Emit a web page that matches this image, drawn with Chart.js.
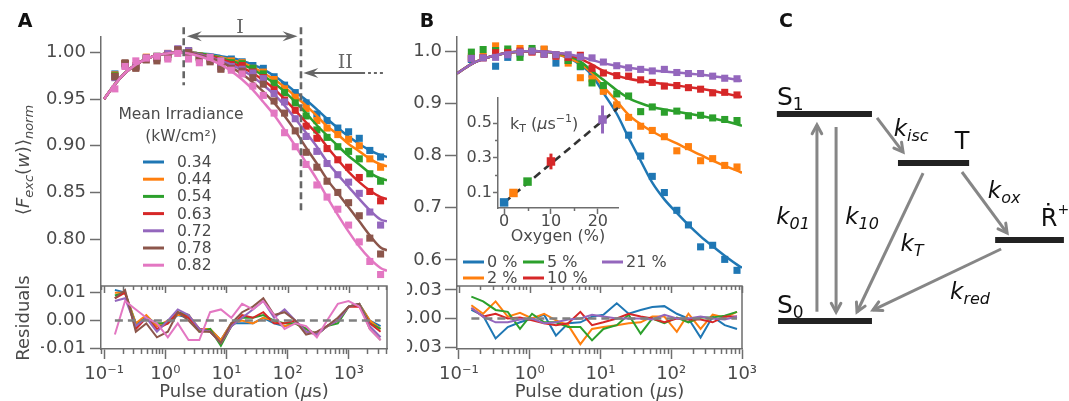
<!DOCTYPE html>
<html>
<head>
<meta charset="utf-8">
<script src="https://cdn.jsdelivr.net/npm/chart.js@4.4.1/dist/chart.umd.min.js"></script>
<style>
  body { margin: 0; background: #fff; }
  #fig { position: relative; width: 1069px; height: 401px; }
  #fig canvas { position: absolute; left: 0; top: 0; }
</style>
</head>
<body>
<div id="fig">
  <canvas id="aMain" width="1069" height="401"></canvas>
  <canvas id="aRes" width="1069" height="401"></canvas>
  <canvas id="bMain" width="1069" height="401"></canvas>
  <canvas id="bRes" width="1069" height="401"></canvas>
  <canvas id="inset" width="1069" height="401"></canvas>
  <canvas id="scheme" width="1069" height="401"></canvas>
</div>
<script>
// ---------- panel A : irradiance series ----------
const irradiance = ['0.34', '0.44', '0.54', '0.63', '0.72', '0.78', '0.82'];
const pulseA = [0.15, 0.22, 0.33, 0.49, 0.73, 1.1, 1.6, 2.4, 3.6, 5.4, 8.1, 12, 18, 27, 40, 60, 89, 133, 200, 300, 440, 660, 990, 1480, 2200, 3300];
const fitPulseA = [0.1, 0.15, 0.22, 0.33, 0.49, 0.73, 1.1, 1.6, 2.4, 3.6, 5.4, 8.1, 12, 18, 27, 40, 60, 89, 133, 200, 300, 440, 660, 990, 1480, 2200, 3300, 4200];

const aMeas034 = [.977, .988, .986, .994, .995, .998, 1.002, 1.001, .996, .995, .989, .993, .990, .986, .983, .974, .965, .957, .946, .934, .927, .919, .915, .908, .895, .888];
const aMeas044 = [.976, .988, .986, .995, .995, .999, 1.002, 1.002, .996, .994, .988, .991, .989, .983, .979, .971, .961, .952, .940, .927, .919, .912, .907, .900, .886, .877];
const aMeas054 = [.975, .988, .985, .994, .996, .998, 1.003, 1.002, .995, .994, .985, .989, .988, .983, .977, .967, .957, .946, .932, .917, .909, .899, .894, .886, .870, .862];
const aMeas063 = [.974, .988, .984, .994, .994, .998, 1.003, 1.001, .995, .992, .985, .987, .986, .979, .973, .960, .949, .938, .921, .908, .897, .885, .877, .866, .851, .841];
const aMeas072 = [.973, .986, .985, .994, .993, .999, 1.004, 1.002, .995, .991, .983, .985, .982, .978, .972, .956, .947, .929, .910, .894, .881, .869, .861, .849, .829, .815];
const aMeas078 = [.974, .989, .983, .992, .991, .995, 1.003, 1.000, .993, .990, .982, .983, .980, .973, .966, .948, .935, .916, .893, .877, .862, .850, .839, .825, .801, .784];
const aMeas082 = [.961, .985, .991, .994, .996, .993, .999, .993, .989, .995, .991, .981, .977, .964, .954, .935, .914, .899, .880, .858, .845, .832, .815, .797, .776, .762];

const aFit034 = [.950, .966, .978, .987, .993, .997, .999, 1.000, 1.000, .999, .998, .996, .994, .991, .987, .982, .975, .967, .958, .949, .939, .929, .919, .910, .902, .895, .890, .888];
const aFit044 = [.950, .966, .978, .987, .993, .997, .999, 1.000, 1.000, .999, .997, .995, .992, .989, .984, .978, .971, .963, .953, .943, .932, .921, .912, .902, .894, .886, .880, .878];
const aFit054 = [.950, .966, .978, .987, .993, .997, .999, 1.000, 1.000, .999, .997, .994, .991, .987, .982, .975, .967, .958, .947, .935, .922, .911, .900, .889, .880, .871, .865, .863];
const aFit063 = [.950, .966, .978, .987, .993, .997, .999, 1.000, 1.000, .998, .996, .993, .989, .984, .978, .970, .961, .950, .938, .925, .913, .899, .885, .872, .861, .852, .845, .843];
const aFit072 = [.950, .966, .978, .987, .993, .997, .999, 1.000, 1.000, .998, .995, .991, .987, .981, .974, .965, .955, .943, .929, .914, .899, .883, .869, .856, .843, .831, .821, .819];
const aFit078 = [.950, .966, .978, .987, .993, .997, .999, 1.000, 1.000, .997, .994, .990, .984, .977, .968, .958, .946, .932, .916, .898, .881, .864, .849, .834, .819, .804, .791, .788];
const aFit082 = [.950, .966, .978, .987, .993, .997, .999, 1.000, .999, .996, .992, .987, .980, .971, .960, .947, .933, .917, .900, .882, .864, .845, .826, .808, .792, .779, .769, .766];

const aRes034 = [.011, .010, -.001, .001, -.002, -.001, .002, .001, -.003, -.003, -.007, -.001, -.001, -.001, .001, -.001, -.002, -.001, -.003, -.005, -.002, .000, .005, .006, .000, -.002];
const aRes044 = [.010, .010, -.001, .002, -.002, .000, .002, .002, -.003, -.003, -.007, -.001, .000, -.001, .001, .000, -.002, -.001, -.003, -.005, -.002, .000, .005, .006, .000, -.003];
const aRes054 = [.009, .010, -.002, .001, -.001, -.001, .003, .002, -.004, -.003, -.009, -.002, .001, .001, .002, .000, -.001, -.001, -.003, -.005, -.002, -.001, .005, .006, -.001, -.003];
const aRes063 = [.008, .010, -.003, .001, -.003, -.001, .003, .001, -.003, -.004, -.008, -.002, .002, .001, .003, -.001, -.001, .000, -.004, -.005, -.002, .000, .005, .005, -.001, -.004];
const aRes072 = [.007, .008, -.002, .001, -.004, .000, .004, .002, -.003, -.004, -.008, -.002, .001, .004, .007, .001, .004, .000, -.004, -.005, -.002, .000, .005, .006, -.002, -.006];
const aRes078 = [.008, .011, -.004, -.001, -.006, -.004, .003, .000, -.004, -.004, -.008, -.001, .003, .005, .008, .002, .003, .000, -.005, -.004, -.002, .001, .005, .006, -.003, -.007];
const aRes082 = [-.005, .007, .004, .001, -.001, -.006, -.001, -.007, -.007, .003, .004, .001, .006, .004, .007, .002, -.003, -.001, -.002, -.006, .000, .006, .007, .005, -.003, -.007];

const aMeas = [aMeas034, aMeas044, aMeas054, aMeas063, aMeas072, aMeas078, aMeas082];
const aFit = [aFit034, aFit044, aFit054, aFit063, aFit072, aFit078, aFit082];
const aRes = [aRes034, aRes044, aRes054, aRes063, aRes072, aRes078, aRes082];

// regimes I / II marked on panel A (pulse durations in us)
const regimeEdges = [2.0, 165];
const regimeEdgeBottom = [0.965, 0.827];

// ---------- panel B : oxygen series ----------
const oxygenLabels = ['0 %', '2 %', '5 %', '10 %', '21 %'];
const pulseB = [0.15, 0.22, 0.33, 0.49, 0.73, 1.08, 1.6, 2.35, 3.5, 5.2, 7.6, 11, 17, 25, 37, 54, 80, 120, 175, 260, 385, 570, 850];
const fitPulseB = [0.094, 0.15, 0.22, 0.33, 0.49, 0.73, 1.08, 1.6, 2.35, 3.5, 5.2, 7.6, 11, 17, 25, 37, 54, 80, 120, 175, 260, 385, 570, 850, 1000];

const bMeas0 = [.984, .988, .971, .988, .995, 1.000, 1.003, .977, .982, .970, .956, .924, .896, .839, .799, .760, .729, .695, .667, .625, .628, .601, .580];
const bMeas2 = [.989, .990, 1.010, .999, 1.005, 1.000, 1.004, .993, .977, .949, .947, .923, .897, .873, .856, .848, .836, .809, .817, .790, .794, .781, .778];
const bMeas5 = [.998, 1.003, 1.001, 1.004, .988, 1.005, .995, .992, .982, .971, .939, .934, .918, .914, .884, .893, .883, .885, .876, .877, .872, .869, .867];
const bMeas10 = [.986, .987, .997, .997, 1.000, .998, .994, .990, .988, .992, .967, .958, .953, .952, .945, .940, .933, .934, .930, .927, .920, .921, .916];
const bMeas21 = [.986, .987, .988, .993, .998, 1.000, .994, .993, .993, .989, .987, .979, .972, .968, .965, .962, .965, .959, .957, .957, .952, .948, .947];

const bFit0 = [.957, .975, .985, .992, .997, .999, 1.000, .999, .995, .987, .974, .954, .920, .880, .834, .790, .748, .716, .690, .667, .645, .626, .608, .591, .585];
const bFit2 = [.957, .975, .985, .992, .997, .999, 1.000, .999, .995, .987, .976, .958, .932, .904, .878, .860, .846, .834, .823, .812, .801, .790, .780, .771, .767];
const bFit5 = [.957, .975, .985, .992, .997, .999, 1.000, .999, .996, .991, .980, .962, .945, .925, .910, .900, .893, .888, .884, .880, .876, .871, .866, .860, .857];
const bFit10 = [.957, .975, .985, .992, .997, .999, 1.000, .999, .997, .993, .985, .974, .962, .953, .947, .943, .940, .937, .934, .931, .928, .924, .919, .914, .912];
const bFit21 = [.957, .975, .985, .992, .997, .999, 1.000, .999, .997, .994, .989, .983, .977, .972, .968, .965, .963, .961, .959, .957, .955, .952, .949, .945, .943];

const bRes0 = [.009, .003, -.021, -.009, -.004, .000, .004, -.018, -.005, -.004, .002, .004, .016, .005, .009, .012, .013, .005, .000, -.020, .002, -.007, -.011];
const bRes2 = [.014, .005, .018, .002, .006, .000, .005, -.002, -.007, -.027, -.011, -.009, -.007, -.005, -.004, .002, .002, -.014, .005, -.011, .004, .001, .007];
const bRes5 = [.023, .018, .009, .007, -.011, .005, -.004, -.004, -.009, -.009, -.023, -.011, -.007, .004, -.016, .000, -.005, .001, -.004, .001, .001, .003, .007];
const bRes10 = [.011, .002, .005, .000, .001, -.002, -.005, -.007, -.005, .007, -.007, -.004, .000, .005, .002, .000, -.004, .000, -.001, -.001, -.004, .002, .002];
const bRes21 = [.011, .002, -.004, -.004, -.001, .000, -.005, -.004, -.001, .000, .004, .002, .000, .000, .000, -.001, .004, .000, .000, .002, .000, -.001, .002];

const bMeas = [bMeas0, bMeas2, bMeas5, bMeas10, bMeas21];
const bFit = [bFit0, bFit2, bFit5, bFit10, bFit21];
const bRes = [bRes0, bRes2, bRes5, bRes10, bRes21];

// inset: triplet decay rate vs oxygen
const oxygen = [0, 2, 5, 10, 21];
const kT = [0.046, 0.100, 0.165, 0.280, 0.520];
const kTErr = [0, 0, 0, 0.045, 0.080];
const kTFitX = [0, 24.3];
const kTFitY = [0.045, 0.586];

// ticks
const decades = [0.1, 1, 10, 100, 1000];
const decadeLabels = ['10\u207B\u00B9', '10\u2070', '10\u00B9', '10\u00B2', '10\u00B3'];
const aYTicks = [0.80, 0.85, 0.90, 0.95, 1.00];
const bYTicks = [0.6, 0.7, 0.8, 0.9, 1.0];
const aResTicks = [-0.01, 0, 0.01];
const bResTicks = [-0.03, 0, 0.03];
const insetYTicks = [0.1, 0.3, 0.5];
const insetYMinor = [0.2, 0.4];
const insetXTicks = [0, 10, 20];
const insetXMinor = [5, 15];

// ---------- panel C : kinetic scheme ----------
const levelNames = ['S1', 'S0', 'T', 'R'];
const levelEnergy = [8.07, 0.68, 6.32, 3.57];
const levelStart = [0.23, 0.27, 4.28, 7.53];
const levelEnd = [3.41, 3.41, 6.66, 9.83];
const rateNames = ['01', '10', 'isc', 'T', 'ox', 'red'];
const rateFromX = [1.57, 2.21, 3.58, 5.12, 6.42, 7.73];
const rateFromY = [1.01, 7.61, 7.93, 5.96, 6.00, 3.25];
const rateToX = [1.57, 2.21, 4.45, 2.91, 7.93, 3.44];
const rateToY = [7.68, 1.00, 6.71, 1.00, 3.82, 1.07];
const rateLabelX = [0.77, 3.08, 4.72, 4.75, 7.83, 6.69];
const rateLabelY = [4.36, 4.36, 7.50, 3.39, 5.29, 1.68];

// ---------- styling ----------
const FONT = 'DejaVu Sans';
const TXT = '#4a4a4a';
const AX = '#6e6e6e';
const tab = ['#1f77b4', '#ff7f0e', '#2ca02c', '#d62728', '#9467bd', '#8c564b', '#e377c2'];
Chart.defaults.font.family = FONT;
Chart.defaults.color = TXT;
Chart.defaults.animation = false;
Chart.defaults.events = [];

function pts(xs, ys) { return xs.map((x, i) => ({ x: x, y: ys[i] })); }

function measSet(xs, ys, color, order, r) {
  return { data: pts(xs, ys), showLine: false, pointStyle: 'rect', pointRadius: r || 5,
    pointBackgroundColor: color, pointBorderWidth: 0, order: order };
}
function lineSet(xs, ys, color, width, order, smooth, dash) {
  return { data: pts(xs, ys), showLine: true, pointRadius: 0, borderColor: color, borderWidth: width,
    cubicInterpolationMode: smooth ? 'monotone' : 'default', tension: 0, borderDash: dash || [],
    borderCapStyle: 'butt', fill: false, order: order };
}

function yScale(min, max, ticks, digits, width, size, tl, pad) {
  return {
    type: 'linear', min: min, max: max,
    afterFit: s => { s.width = width; },
    afterBuildTicks: s => { s.ticks = ticks.map(v => ({ value: v })); },
    ticks: { font: { size: size }, color: TXT, padding: pad,
      callback: v => v.toFixed(digits).replace('-', '\u2212') },
    grid: { drawOnChartArea: false, tickLength: tl, tickColor: AX, tickWidth: 1.5 },
    border: { color: AX, width: 1.5 }
  };
}
function xHidden(type, min, max) { return { type: type, min: min, max: max, display: false }; }
function xPulse(min, max) {
  return {
    type: 'logarithmic', min: min, max: max, position: 'bottom',
    afterFit: s => { s.height = 52; },
    afterBuildTicks: s => { s.ticks = decades.filter(v => v >= min && v <= max).map(v => ({ value: v })); },
    ticks: { font: { size: 18 }, color: TXT, padding: 5, maxRotation: 0, autoSkip: false,
      callback: v => decadeLabels[decades.indexOf(v)] },
    grid: { drawOnChartArea: false, tickLength: 10, tickColor: AX, tickWidth: 1.5 },
    border: { color: AX, width: 1.5 }
  };
}
function minorDecades(min, max) {
  const out = [];
  for (let p = -2; p <= 4; p++) for (let m = 2; m <= 9; m++) {
    const v = m * Math.pow(10, p);
    if (v > min && v < max) out.push(v);
  }
  return out;
}

function richText(ctx, parts, x, y, o) {
  const size = o.size, sub = o.sub || Math.round(size * 0.7);
  const fontFor = p => (p[2] ? 'italic ' : '') + (p[1] ? sub : size) + 'px ' + (o.family || FONT);
  ctx.save();
  ctx.translate(x, y);
  if (o.rot) ctx.rotate(o.rot);
  let w = 0;
  parts.forEach(p => { ctx.font = fontFor(p); w += ctx.measureText(p[0]).width; });
  let cx = o.align === 'left' ? 0 : -w / 2;
  ctx.textBaseline = 'middle'; ctx.textAlign = 'left'; ctx.fillStyle = o.color || TXT;
  parts.forEach(p => {
    ctx.font = fontFor(p);
    const dy = p[1] === 'sub' ? size * 0.3 : p[1] === 'sup' ? -size * 0.38 : 0;
    ctx.fillText(p[0], cx, dy);
    cx += ctx.measureText(p[0]).width;
  });
  ctx.restore();
}

function stealthHead(ctx, x0, y0, x1, y1, len, half) {
  const a = Math.atan2(y1 - y0, x1 - x0), c = Math.cos(a), s = Math.sin(a);
  ctx.beginPath();
  ctx.moveTo(x1, y1);
  ctx.lineTo(x1 - len * c - half * s, y1 - len * s + half * c);
  ctx.lineTo(x1 - 0.65 * len * c, y1 - 0.65 * len * s);
  ctx.lineTo(x1 - len * c + half * s, y1 - len * s - half * c);
  ctx.closePath();
  ctx.fill();
}
function vHead(ctx, x0, y0, x1, y1, len, ang) {
  const a = Math.atan2(y1 - y0, x1 - x0);
  ctx.beginPath();
  ctx.moveTo(x1 - len * Math.cos(a - ang), y1 - len * Math.sin(a - ang));
  ctx.lineTo(x1, y1);
  ctx.lineTo(x1 - len * Math.cos(a + ang), y1 - len * Math.sin(a + ang));
  ctx.stroke();
}

// residual panels: full box, inward top ticks, minor ticks, x title with italic mu
function boxPlugin(min, max) {
  const minors = minorDecades(min, max);
  return {
    id: 'box',
    afterDraw(chart) {
      const { ctx, chartArea: ca } = chart, x = chart.scales.x;
      ctx.save();
      ctx.strokeStyle = AX; ctx.lineWidth = 1.5;
      ctx.beginPath(); ctx.moveTo(ca.left, ca.top); ctx.lineTo(ca.right, ca.top); ctx.lineTo(ca.right, ca.bottom); ctx.stroke();
      const tick = (v, y0, len) => {
        const px = Math.round(x.getPixelForValue(v)) + 0.5;
        ctx.beginPath(); ctx.moveTo(px, y0); ctx.lineTo(px, y0 + len); ctx.stroke();
      };
      decades.filter(v => v >= min && v <= max).forEach(v => tick(v, ca.top, 7));
      minors.forEach(v => { tick(v, ca.top, 4); tick(v, ca.bottom, 5); });
      richText(ctx, [['Pulse duration (', '', false], ['\u03BC', '', true], ['s)', '', false]],
        (ca.left + ca.right) / 2, 392, { size: 18 });
      ctx.restore();
    }
  };
}

// ---------- panel A main ----------
const annotA = {
  id: 'annotA',
  afterDraw(chart) {
    const { ctx } = chart, x = chart.scales.x, y = chart.scales.y;
    ctx.save();
    // regime boundaries
    ctx.strokeStyle = '#666'; ctx.lineWidth = 2.6; ctx.setLineDash([7, 4]);
    regimeEdges.forEach((e, i) => {
      const px = x.getPixelForValue(e);
      ctx.beginPath(); ctx.moveTo(px, y.getPixelForValue(1.027)); ctx.lineTo(px, y.getPixelForValue(regimeEdgeBottom[i])); ctx.stroke();
    });
    // arrow I (double headed)
    ctx.setLineDash([]); ctx.lineWidth = 2; ctx.fillStyle = '#666';
    const ay = y.getPixelForValue(1.0175);
    const a0 = x.getPixelForValue(2.25), a1 = x.getPixelForValue(145);
    ctx.beginPath(); ctx.moveTo(a0 + 8, ay); ctx.lineTo(a1 - 8, ay); ctx.stroke();
    stealthHead(ctx, a1, ay, a0, ay, 15, 5);
    stealthHead(ctx, a0, ay, a1, ay, 15, 5);
    // arrow II
    const by = y.getPixelForValue(0.978);
    const b0 = x.getPixelForValue(3600), bm = x.getPixelForValue(1840), b1 = x.getPixelForValue(180);
    ctx.beginPath(); ctx.moveTo(bm, by); ctx.lineTo(b1 + 8, by); ctx.stroke();
    ctx.setLineDash([3, 3]);
    ctx.beginPath(); ctx.moveTo(b0, by); ctx.lineTo(bm + 3, by); ctx.stroke();
    ctx.setLineDash([]);
    stealthHead(ctx, bm, by, b1, by, 15, 5);
    ctx.font = '19px "DejaVu Serif"'; ctx.textAlign = 'center'; ctx.textBaseline = 'middle';
    ctx.fillText('I', x.getPixelForValue(16.6), y.getPixelForValue(1.0265));
    ctx.fillText('II', x.getPixelForValue(870), y.getPixelForValue(0.9885));
    // legend
    ctx.fillStyle = TXT; ctx.font = '15.5px ' + FONT;
    ctx.fillText('Mean Irradiance', 181, 115);
    ctx.fillText('(kW/cm\u00B2)', 181, 137);
    ctx.textAlign = 'left';
    irradiance.forEach((lab, i) => {
      const ly = 162 + 17.2 * i;
      ctx.strokeStyle = tab[i]; ctx.lineWidth = 3;
      ctx.beginPath(); ctx.moveTo(143, ly); ctx.lineTo(164, ly); ctx.stroke();
      ctx.fillStyle = TXT; ctx.fillText(lab, 177, ly + 1);
    });
    // axis titles and panel letters
    richText(ctx, [['\u27E8', '', false], ['F', '', true], ['exc', 'sub', true], ['(', '', false], ['w', '', true],
      [')', '', false], ['\u27E9', '', false], ['norm', 'sub', true]], 24, 160, { size: 18, rot: -Math.PI / 2 });
    richText(ctx, [['Residuals', '', false]], 24, 318, { size: 18, rot: -Math.PI / 2 });
    ctx.fillStyle = '#111'; ctx.font = 'bold 19px ' + FONT; ctx.textAlign = 'center';
    ctx.fillText('A', 25, 22); ctx.fillText('B', 427, 22); ctx.fillText('C', 786, 22);
    ctx.restore();
  }
};

const aMainSets = [];
aMeas.forEach((m, i) => {
  aMainSets.push(measSet(pulseA, m, tab[i], 100 - 2 * i));
  aMainSets.push(lineSet(fitPulseA, aFit[i], tab[i], 2.5, 99 - 2 * i, true));
});
new Chart(document.getElementById('aMain'), {
  type: 'scatter',
  data: { datasets: aMainSets },
  options: {
    responsive: false, animation: false,
    layout: { padding: { left: 41, top: 37, right: 682, bottom: 115 } },
    plugins: { legend: { display: false }, tooltip: { enabled: false } },
    scales: { x: xHidden('logarithmic', 0.089, 4200), y: yScale(0.7497, 1.0166, aYTicks, 2, 60, 18, 11, 4) }
  },
  plugins: [annotA]
});

// ---------- panel A residuals ----------
const aResSets = aRes.map((r, i) => lineSet(pulseA, r, tab[i], 2, 100 - i, false));
aResSets.push(lineSet([pulseA[0], pulseA[pulseA.length - 1]], [0, 0], '#808080', 2.6, 1, false, [8, 5]));
new Chart(document.getElementById('aRes'), {
  type: 'scatter',
  data: { datasets: aResSets },
  options: {
    responsive: false, animation: false,
    layout: { padding: { left: 41, top: 286, right: 682, bottom: 0 } },
    plugins: { legend: { display: false }, tooltip: { enabled: false } },
    scales: { x: xPulse(0.089, 4200), y: yScale(-0.0102, 0.0124, aResTicks, 2, 60, 18, 11, 4) }
  },
  plugins: [boxPlugin(0.089, 4200)]
});

// ---------- panel B main ----------
const legendB = {
  id: 'legendB',
  afterDraw(chart) {
    const { ctx } = chart;
    const spots = [[463, 262], [463, 278], [523, 262], [523, 278], [602, 262]];
    ctx.save();
    ctx.font = '16px ' + FONT; ctx.textBaseline = 'middle'; ctx.textAlign = 'left';
    oxygenLabels.forEach((lab, i) => {
      const [lx, ly] = spots[i];
      ctx.strokeStyle = tab[i]; ctx.lineWidth = 3;
      ctx.beginPath(); ctx.moveTo(lx, ly); ctx.lineTo(lx + 21, ly); ctx.stroke();
      ctx.fillStyle = TXT; ctx.fillText(lab, lx + 24, ly + 1);
    });
    ctx.restore();
  }
};
const bMainSets = [];
bMeas.forEach((m, i) => {
  bMainSets.push(measSet(pulseB, m, tab[i], 100 - 2 * i));
  bMainSets.push(lineSet(fitPulseB, bFit[i], tab[i], 2.5, 99 - 2 * i, true));
});
new Chart(document.getElementById('bMain'), {
  type: 'scatter',
  data: { datasets: bMainSets },
  options: {
    responsive: false, animation: false,
    layout: { padding: { left: 407, top: 37, right: 327, bottom: 115 } },
    plugins: { legend: { display: false }, tooltip: { enabled: false } },
    scales: { x: xHidden('logarithmic', 0.094, 1000), y: yScale(0.550, 1.027, bYTicks, 1, 50, 18, 12, 3) }
  },
  plugins: [legendB]
});

// ---------- panel B residuals ----------
const bResSets = bRes.map((r, i) => lineSet(pulseB, r, tab[i], 2, 100 - i, false));
bResSets.push(lineSet([pulseB[0], pulseB[pulseB.length - 1]], [0, 0], '#808080', 2.6, 1, false, [8, 5]));
new Chart(document.getElementById('bRes'), {
  type: 'scatter',
  data: { datasets: bResSets },
  options: {
    responsive: false, animation: false,
    layout: { padding: { left: 407, top: 286, right: 327, bottom: 0 } },
    plugins: { legend: { display: false }, tooltip: { enabled: false } },
    scales: { x: xPulse(0.094, 1000), y: yScale(-0.0321, 0.0342, bResTicks, 2, 50, 18, 12, 3) }
  },
  plugins: [boxPlugin(0.094, 1000)]
});

// ---------- inset ----------
const insetDeco = {
  id: 'insetDeco',
  afterDraw(chart) {
    const { ctx, chartArea: ca } = chart, x = chart.scales.x, y = chart.scales.y;
    ctx.save();
    ctx.strokeStyle = AX; ctx.lineWidth = 1.5;
    insetYMinor.forEach(v => { const py = Math.round(y.getPixelForValue(v)) + 0.5; ctx.beginPath(); ctx.moveTo(ca.left, py); ctx.lineTo(ca.left - 3, py); ctx.stroke(); });
    insetXMinor.forEach(v => { const px = Math.round(x.getPixelForValue(v)) + 0.5; ctx.beginPath(); ctx.moveTo(px, ca.bottom); ctx.lineTo(px, ca.bottom + 3); ctx.stroke(); });
    richText(ctx, [['k', '', false], ['T', 'sub', false], [' (', '', false], ['\u03BC', '', true], ['s', '', false], ['\u22121', 'sup', false], [')', '', false]],
      ca.left + 12, y.getPixelForValue(0.49), { size: 16, align: 'left', sub: 11 });
    ctx.restore();
  }
};
const insetSets = [lineSet(kTFitX, kTFitY, '#333', 2.6, 50, false, [8, 5])];
oxygen.forEach((o, i) => {
  if (kTErr[i] > 0) insetSets.push(lineSet([o, o], [kT[i] - kTErr[i], kT[i] + kTErr[i]], tab[i], 3, 20 - i, false));
  insetSets.push(measSet([o], [kT[i]], tab[i], 10 - i, 6));
});
new Chart(document.getElementById('inset'), {
  type: 'scatter',
  data: { datasets: insetSets },
  options: {
    responsive: false, animation: false,
    layout: { padding: { left: 458, top: 98, right: 451, bottom: 156 } },
    plugins: { legend: { display: false }, tooltip: { enabled: false } },
    scales: {
      x: {
        type: 'linear', min: -1.3, max: 24.3, position: 'bottom',
        afterFit: s => { s.height = 37; },
        afterBuildTicks: s => { s.ticks = insetXTicks.map(v => ({ value: v })); },
        ticks: { font: { size: 16, lineHeight: 1 }, color: TXT, padding: 0, maxRotation: 0 },
        grid: { drawOnChartArea: false, tickLength: 6, tickColor: AX, tickWidth: 1.5 },
        border: { color: AX, width: 1.5 },
        title: { display: true, text: 'Oxygen (%)', font: { size: 16, lineHeight: 1 }, color: TXT, padding: 0 }
      },
      y: yScale(0.014, 0.643, insetYTicks, 1, 40, 16, 5, 1)
    }
  },
  plugins: [insetDeco]
});

// ---------- panel C : scheme ----------
const schemeDeco = {
  id: 'schemeDeco',
  afterDraw(chart) {
    const { ctx } = chart, x = chart.scales.x, y = chart.scales.y;
    ctx.save();
    ctx.strokeStyle = '#868686'; ctx.lineWidth = 3; ctx.lineCap = 'round';
    rateNames.forEach((n, i) => {
      vHead(ctx, x.getPixelForValue(rateFromX[i]), y.getPixelForValue(rateFromY[i]),
        x.getPixelForValue(rateToX[i]), y.getPixelForValue(rateToY[i]), 10, 0.5);
      richText(ctx, [['k', '', true], [n, 'sub', true]], x.getPixelForValue(rateLabelX[i]), y.getPixelForValue(rateLabelY[i]),
        { size: 23, sub: 16, color: '#111' });
    });
    const sx = x.getPixelForValue(levelStart[0]);
    richText(ctx, [['S', '', false], ['1', 'sub', false]], sx, y.getPixelForValue(8.64), { size: 25, sub: 17, align: 'left', color: '#111' });
    richText(ctx, [['S', '', false], ['0', 'sub', false]], sx, y.getPixelForValue(1.21), { size: 25, sub: 17, align: 'left', color: '#111' });
    richText(ctx, [['T', '', false]], x.getPixelForValue(6.42), y.getPixelForValue(7.04), { size: 24, color: '#111' });
    richText(ctx, [['\u1E58', '', false], ['+', 'sup', false]], x.getPixelForValue(9.53), y.getPixelForValue(4.29), { size: 24, sub: 14, color: '#111' });
    ctx.restore();
  }
};
const schemeSets = [];
levelNames.forEach((n, i) => {
  schemeSets.push(lineSet([levelStart[i], levelEnd[i]], [levelEnergy[i], levelEnergy[i]], '#222', 6, 1, false));
});
rateNames.forEach((n, i) => {
  schemeSets.push(lineSet([rateFromX[i], rateToX[i]], [rateFromY[i], rateToY[i]], '#868686', 3, 5, false));
});
new Chart(document.getElementById('scheme'), {
  type: 'scatter',
  data: { datasets: schemeSets },
  options: {
    responsive: false, animation: false,
    layout: { padding: { left: 770, top: 60, right: 0, bottom: 61 } },
    plugins: { legend: { display: false }, tooltip: { enabled: false } },
    scales: { x: xHidden('linear', 0, 10), y: xHidden('linear', 0, 10) }
  },
  plugins: [schemeDeco]
});
</script>
</body>
</html>
